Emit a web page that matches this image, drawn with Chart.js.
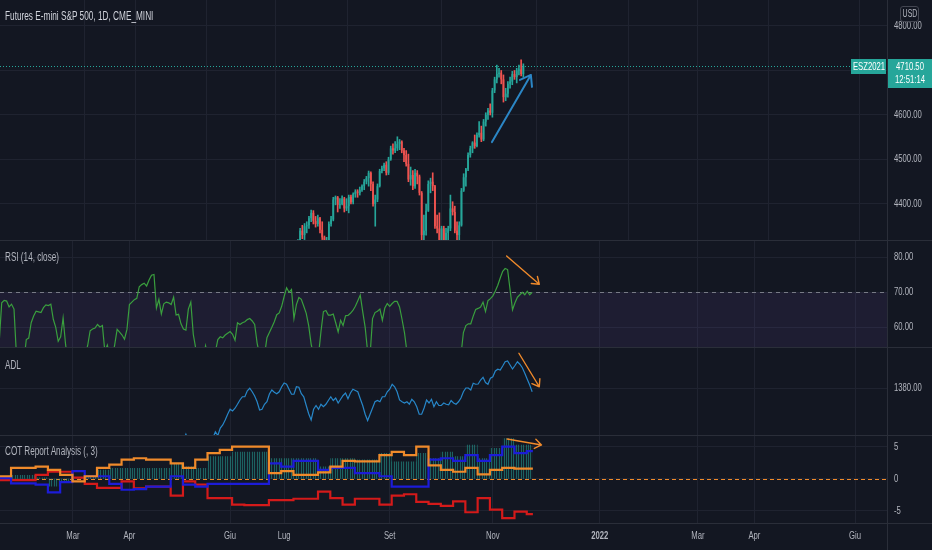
<!DOCTYPE html>
<html>
<head>
<meta charset="utf-8">
<script src="https://cdn.jsdelivr.net/npm/chart.js@4.4.1/dist/chart.umd.min.js"></script>
<style>
  html, body { margin: 0; padding: 0; }
  body { width: 932px; height: 550px; background: #2a2e39; position: relative; overflow: hidden;
         font-family: "Liberation Sans", Arial, sans-serif; }
  .pane { position: absolute; left: 0; width: 932px; background: #131722; }
  .pane canvas { display: block; }
  .legend { position: absolute; left: 5px; font-size: 12px; line-height: 14px; color: #b2b5be; white-space: nowrap;
            transform: scaleX(0.68); transform-origin: 0 0; }
  .tag { position: absolute; background: #26a69a; color: #fff; font-size: 11px; white-space: nowrap; overflow: hidden; }
  .tag span, #usd span { display: block; width: 200%; margin-left: -50%; text-align: center; transform: scaleX(0.7); }
  .rule { position: absolute; background: #2a2e39; }
  #usd { position: absolute; left: 900px; top: 6px; width: 17px; height: 14px; border: 1px solid #434651; border-radius: 3px;
         background: #131722; color: #b2b5be; font-size: 10px; line-height: 14px; white-space: nowrap; overflow: hidden; }
</style>
</head>
<body>
<div class="pane" style="top:0;height:240px"><canvas id="mainChart" width="932" height="240"></canvas></div>
<div class="pane" style="top:241px;height:106px"><canvas id="rsiChart" width="932" height="106"></canvas></div>
<div class="pane" style="top:348px;height:87px"><canvas id="adlChart" width="932" height="87"></canvas></div>
<div class="pane" style="top:436px;height:114px"><canvas id="cotChart" width="932" height="114"></canvas></div>
<div class="rule" style="left:0;top:523px;width:932px;height:1px"></div>
<div class="rule" style="left:887px;top:0;width:1px;height:550px"></div>

<div class="legend" style="top:9px;font-size:12.5px;color:#d1d4dc;transform:scaleX(0.66)">Futures E-mini S&amp;P 500, 1D, CME_MINI</div>
<div class="legend" style="top:250px">RSI (14, close)</div>
<div class="legend" style="top:358px">ADL</div>
<div class="legend" style="top:444px">COT Report Analysis (, 3)</div>
<div id="usd"><span>USD</span></div>
<div class="tag" style="left:851px;top:59px;width:35px;height:15px;line-height:15px"><span>ESZ2021</span></div>
<div class="tag" style="left:888px;top:59px;width:44px;height:29px;line-height:13px;padding-top:1px;box-sizing:border-box"><span>4710.50</span><span>12:51:14</span></div>

<script>
// x axis = daily bar index, month labels as printed by TradingView
const monthLabels = ['Mar', 'Apr', 'Giu', 'Lug', 'Set', 'Nov', '2022', 'Mar', 'Apr', 'Giu'];
const monthBars = [30, 53, 94, 116, 159, 201, 244.5, 284.5, 307.5, 348.5];

// ESZ2021 daily candles, from bar 112 (25 Jun) to bar 217 (23 Nov)
const candleStart = 112;
const candleOpen = [
  4262,4276,4288,4296,4318,4340,4330,4350,4352,4368, 4380,4362,4355,4368,4342,4325,4250,4318,4355,4365,
  4410,4415,4398,4400,4412,4390,4395,4416,4404,4422, 4428,4425,4432,4440,4450,4458,4470,4445,4400,4410,
  4440,4474,4480,4488,4470,4500,4525,4520,4525,4535, 4540,4520,4510,4490,4455,4465,4440,4470,4462,4425,
  4330,4340,4385,4445,4450,4440,4350,4345,4305,4345, 4285,4335,4345,4390,4382,4340,4330,4352,4430,4460,
  4478,4510,4525,4538,4530,4555,4560,4545,4585,4600, 4610,4605,4655,4680,4692,4695,4680,4640,4648,4670,
  4675,4692,4685,4700,4702,4692];
const candleHigh = [
  4280,4292,4300,4320,4345,4352,4356,4360,4372,4386, 4385,4372,4375,4370,4360,4328,4325,4360,4372,4415,
  4418,4417,4412,4418,4415,4412,4420,4420,4425,4432, 4432,4438,4443,4455,4462,4474,4472,4450,4420,4445,
  4478,4485,4492,4495,4505,4530,4535,4540,4551,4545, 4542,4525,4520,4512,4483,4475,4478,4475,4465,4428,
  4375,4400,4452,4458,4470,4442,4375,4380,4350,4350, 4345,4350,4420,4405,4395,4360,4360,4435,4468,4480,
  4515,4530,4540,4555,4560,4585,4575,4590,4605,4615, 4625,4660,4685,4712,4705,4700,4690,4660,4675,4685,
  4698,4700,4705,4712,4724,4715];
const candleLow = [
  4255,4270,4280,4290,4315,4322,4320,4335,4345,4360, 4355,4348,4350,4335,4320,4240,4245,4310,4350,4362,
  4398,4382,4390,4398,4382,4385,4380,4400,4400,4415, 4415,4420,4428,4432,4445,4440,4430,4395,4350,4405,
  4438,4470,4475,4465,4466,4498,4512,4515,4520,4522, 4515,4495,4485,4450,4442,4432,4435,4445,4420,4295,
  4320,4330,4383,4425,4430,4345,4335,4300,4270,4270, 4280,4270,4340,4375,4335,4320,4310,4350,4428,4440,
  4475,4505,4515,4525,4528,4550,4540,4542,4575,4590, 4600,4595,4650,4672,4685,4670,4629,4632,4640,4660,
  4668,4680,4672,4690,4688,4685];
const candleClose = [
  4276,4288,4296,4318,4340,4330,4350,4352,4368,4380, 4362,4355,4368,4342,4325,4250,4318,4355,4365,4410,
  4415,4398,4400,4412,4390,4395,4416,4404,4422,4428, 4425,4432,4440,4450,4458,4470,4445,4400,4410,4440,
  4474,4480,4488,4470,4500,4525,4520,4525,4535,4540, 4520,4510,4490,4455,4465,4440,4470,4462,4425,4330,
  4340,4385,4445,4450,4440,4350,4345,4305,4345,4285, 4335,4345,4390,4382,4340,4330,4352,4430,4460,4478,
  4510,4525,4538,4530,4555,4560,4545,4585,4600,4610, 4605,4655,4680,4692,4695,4680,4640,4648,4670,4675,
  4692,4685,4700,4702,4692,4710.5];

// RSI(14) per bar, from bar 0
const rsiValues = [
  56,67,67.7,67.5,65.8,66.6,65.2,52,50,48, 50,56.5,56.9,61.3,63.2,64.6,64.4,64.2,65.6,66.4,
  66.2,66.6,62.3,60,56,57.3,62.7,55.1,50,52, 53,50,48,49,50,52,54.8,59,59.5,59.8,
  60.8,60.1,60.5,53,54.9,52,51,55,59.4,58.6, 57.8,56.6,59.4,66.5,67.2,67.9,68.3,71.6,72.2,72.6,
  71.8,73.5,74.9,75.1,65.5,68,63.8,66.7,67.2,67, 66.5,68.6,63.5,63.7,61,59.5,59.2,65.2,67.2,58,
  54,50,49,50,54.7,52,50,51,53,56.5, 57.3,57,57.8,58.3,58.8,58,56.3,61.3,60.8,61.3,
  61.6,62.2,62.5,61.8,60.8,55.5,52,51,52,57, 58.5,60,61.6,63.6,64.1,66,68.8,71.3,70,70.8,
  62.5,66.5,68.5,68,66,64,60.5,55.2,52,50, 52,58.8,64.5,64.8,63.5,63.5,63.8,61.3,58.7,62,
  60.5,63.3,63.4,64,64.8,66,67.6,69.2,64.5,60, 53,52,62.5,64.2,64.6,65.2,62,65.5,66.8,66,
  66.8,67.4,67.4,65.8,62.3,58.5,53,
  50,47,44,46,43,40,45,41,38,40,43,41,39,42,47,45,42,44,40,46,51,
  52,58.5,60.5,61,61,63.2,65.1,65.4,65.8,67.2, 64.5,67.6,68.2,69,70.4,72,74.1,76,76.8,76.5,
  70.8,65,67,68.6,69.3,70,69.3,70.3,69.3,70];

// ADL per bar, from bar 0
const adlValues = [
  1336,1337,1335,1334,1336,1338,1337,1335,1333,1331, 1330,1332,1334,1336,1337,1338,1339,1338,1340,1341,
  1340,1338,1336,1335,1337,1336,1334,1333,1332,1331, 1333,1334,1336,1338,1339,1340,1341,1343,1342,1340,
  1339,1341,1338,1340,1342,1343,1345,1346,1348,1349, 1350,1349,1351,1352,1351,1349,1347,1348,1350,1352,
  1353,1352,1350,1348,1347,1349,1350,1352,1354,1355, 1356,1358,1357,1356,1358,1359,1361.5,1359,1357,1356,
  1355,1354,1356,1357,1358,1359,1360,
  1360,1362.5,1361,1364,1365.2,1367.2,1369.5,1371.5,1370.8,1371.9,
  1373.5,1375.2,1376.5,1376.5,1378.9,1379.9,1378.5,1376.8,1374.5,1371.2,
  1371.5,1373.5,1374.5,1377.6,1379.2,1378.3,1377.7,1378.5,1380.5,1382,
  1381.5,1379.5,1377.5,1377.5,1380.5,1380.3,1377.7,1376.5,1373,1369.7,
  1367.2,1371.5,1373,1371.5,1373.5,1372.5,1373.5,1375,1376.5,1375,
  1376,1374,1375.5,1377,1378,1375.7,1378,1379.5,1379,1378.5,
  1375.7,1373,1369.5,1367,1369.5,1372,1374.5,1375,1374.5,1376.5,
  1376.5,1378.5,1379.5,1381.5,1380.5,1378.5,1375.2,1374.5,1374,1374.5,
  1373.5,1375.5,1374.5,1372.5,1369.5,1369.5,1372,1375.2,1374,1375.5,
  1372.5,1374.5,1373,1373,1374,1373.5,1373.3,1375,1374,1373.5,
  1374.5,1376,1378.5,1380,1380,1379.2,1381.9,1381.5,1381.6,1383.2,
  1384.3,1382.2,1381.5,1383.9,1384.5,1386.8,1387.5,1387.2,1388.8,1390.5,
  1390.8,1389.2,1387.6,1389,1390.5,1389.5,1388.1,1385.9,1383.5,1381.2,
  1378.5];

// COT report, one value per weekly report
const cotOrange = [0.4,0.4,1.7,1.7,1.9,1.4,0.6,-0.4,0.4,1.7, 2.2,3.0,3.2,3.0,3.0,2.4,1.7,3.0,4.0,4.5,
  5.0,5.0,5.0,0.9,1.2,0.6,0.6,1.0,1.9,2.8, 2.7,2.7,3.7,4.2,3.7,5.0,2.1,1.4,1.1,1.7, 0.7,1.4,1.7,1.6,1.6];
const cotBlue = [-0.2,0.1,-0.7,-0.7,-0.9,-2.1,-0.5,1.2,0.4,0.4, -0.8,-1.7,-1.6,-1.2,-1.2,0.4,-0.9,-1.2,-0.8,-0.8,
  -0.8,-0.8,-0.8,2.4,1.9,2.8,2.8,1.4,1.7,1.7, 0.9,0.9,0.4,-1.2,-1.2,-1.2,3.0,3.2,2.8,3.7, 2.8,3.7,5.0,4.0,4.3];
const cotRed = [0.4,-0.2,-0.2,-0.2,0.6,1.1,1.1,0.2,-0.8,-1.4, -1.4,-0.4,-1.5,-1.2,-1.2,-2.6,-0.4,-0.9,-3.0,-3.0,
  -4.0,-4.1,-4.1,-3.3,-3.3,-3.1,-3.1,-2.0,-3.0,-4.0, -3.1,-3.1,-4.0,-2.6,-2.4,-3.6,-3.9,-4.2,-3.5,-5.2, -3.0,-4.8,-6.1,-5.1,-5.5];
const cotHist = [0.4,0.4,0.6,0.6,0.2,-1.2,-0.4,0.1,0.4,1.4, 1.7,1.7,1.7,1.7,1.7,2.4,1.9,1.7,3.5,3.5,
  4.2,4.2,4.2,3.2,3.2,3.2,3.2,1.9,3.2,3.2, 3.0,3.0,4.0,2.7,2.7,4.0,3.2,4.2,3.5,5.3, 3.2,4.8,6.3,5.3,5.3];

// hand drawn arrows: [bar, value] start and end
const priceArrow = [[202.8, 4539], [220.4, 4690]];
const rsiArrow = [[206.6, 80.4], [219.9, 72.3]];
const adlArrow = [[211.6, 1393.9], [219.9, 1380.5]];
const cotArrow = [[206.8, 6.2], [220.8, 5.27]];

const GRID = '#1f2330';
const TEXT = '#b2b5be';
const LABEL_FONT = '11px "Liberation Sans", Arial, sans-serif';
const SQUEEZE = 0.7;
const UP = '#26a69a', DOWN = '#ef5350';

const toXY = (vals, start) => vals.map((y, i) => ({ x: start + i, y }));
const weekXY = vals => vals.map((y, n) => ({ x: 5 * n - 2.7, y }));

function xAxis(withLabels) {
  return {
    type: 'linear', min: 0.3, max: 361.9,
    afterBuildTicks: s => { s.ticks = monthBars.map(v => ({ value: v })); },
    afterFit: s => { s.height = withLabels ? 27 : 0; s.paddingLeft = 0; s.paddingRight = 0; },
    grid: { color: GRID, drawTicks: false },
    border: { display: false },
    ticks: { display: false }
  };
}

function yAxis(min, max, ticks) {
  return {
    type: 'linear', position: 'right', min, max,
    afterBuildTicks: s => { s.ticks = ticks.map(v => ({ value: v })); },
    afterFit: s => { s.width = 44; s.paddingTop = 0; s.paddingBottom = 0; },
    grid: { color: GRID, drawTicks: false },
    border: { display: false },
    ticks: { display: false }
  };
}

// narrow tick labels like TradingView's axis font
function squeezed(ctx, text, x, y, align) {
  ctx.save();
  ctx.translate(x, y); ctx.scale(SQUEEZE, 1);
  ctx.textAlign = align; ctx.textBaseline = 'middle';
  ctx.fillText(text, 0, 0);
  ctx.restore();
}
function axisText(yFmt, withX) {
  return {
    id: 'axisText',
    afterDraw(chart) {
      const { ctx, chartArea: a, scales: { x, y } } = chart;
      ctx.save();
      ctx.fillStyle = TEXT;
      ctx.font = LABEL_FONT;
      y.ticks.forEach(t => squeezed(ctx, yFmt(t.value), y.left + 6, y.getPixelForValue(t.value), 'left'));
      if (withX) {
        x.ticks.forEach((t, i) => {
          ctx.font = (monthLabels[i] === '2022' ? 'bold ' : '') + LABEL_FONT;
          squeezed(ctx, monthLabels[i], x.getPixelForValue(t.value), a.bottom + 13, 'center');
        });
      }
      ctx.restore();
    }
  };
}

// bands, horizontal level lines and arrows drawn on top of the scales
function overlay(opts) {
  const drawLevels = (chart, list) => {
    const { ctx, chartArea: a, scales: { y } } = chart;
    ctx.save();
    ctx.beginPath(); ctx.rect(a.left, a.top, a.width, a.height); ctx.clip();
    (opts.bands || []).forEach(b => {
      if (list !== 'under') return;
      const y1 = y.getPixelForValue(b.from), y2 = y.getPixelForValue(b.to);
      ctx.fillStyle = b.color;
      ctx.fillRect(a.left, Math.min(y1, y2), a.width, Math.abs(y2 - y1));
    });
    (opts[list] || []).forEach(l => {
      const py = Math.round(y.getPixelForValue(l.value)) + 0.5;
      ctx.strokeStyle = l.color; ctx.lineWidth = 1; ctx.setLineDash(l.dash);
      ctx.beginPath(); ctx.moveTo(a.left, py); ctx.lineTo(a.right, py); ctx.stroke();
    });
    ctx.restore();
  };
  return {
    id: 'overlay',
    beforeDatasetsDraw(chart) { drawLevels(chart, 'under'); },
    afterDatasetsDraw(chart) {
      drawLevels(chart, 'over');
      const { ctx, scales: { x, y } } = chart;
      ctx.save();
      (opts.arrows || []).forEach(ar => {
        const x1 = x.getPixelForValue(ar.pts[0][0]), y1 = y.getPixelForValue(ar.pts[0][1]);
        const x2 = x.getPixelForValue(ar.pts[1][0]), y2 = y.getPixelForValue(ar.pts[1][1]);
        const ang = Math.atan2(y2 - y1, x2 - x1);
        ctx.strokeStyle = ar.color; ctx.lineWidth = ar.width; ctx.lineCap = 'round';
        ctx.beginPath(); ctx.moveTo(x1, y1); ctx.lineTo(x2, y2);
        [-1, 1].forEach(s => {
          ctx.moveTo(x2, y2);
          ctx.lineTo(x2 - ar.head * Math.cos(ang + s * 0.62), y2 - ar.head * Math.sin(ang + s * 0.62));
        });
        ctx.stroke();
      });
      ctx.restore();
    }
  };
}

const base = {
  responsive: false, animation: false, events: [],
  layout: { padding: 0 },
  plugins: { legend: { display: false }, tooltip: { enabled: false } }
};
const fixed2 = v => v.toFixed(2);

// main price pane
const candleX = candleOpen.map((_, i) => candleStart + i);
const candleColor = i => candleClose[i] >= candleOpen[i] ? UP : DOWN;
const lastPrice = candleClose[candleClose.length - 1];
new Chart(document.getElementById('mainChart'), {
  type: 'bar',
  data: {
    datasets: [
      { data: candleX.map((x, i) => ({ x, y: [candleOpen[i], candleClose[i]] })),
        backgroundColor: c => candleColor(c.dataIndex), grouped: false,
        barPercentage: 0.8, categoryPercentage: 1 },
      { data: candleX.map((x, i) => ({ x, y: [candleLow[i], candleHigh[i]] })),
        backgroundColor: c => candleColor(c.dataIndex), grouped: false, barThickness: 1 }
    ]
  },
  options: { ...base,
    scales: { x: xAxis(false), y: yAxis(4319, 4858.4, [4400, 4500, 4600, 4700, 4800]) } },
  plugins: [overlay({
    over: [{ value: lastPrice, color: UP, dash: [1, 2] }],
    arrows: [{ pts: priceArrow, color: '#2b86c5', width: 2, head: 12 }]
  }), axisText(fixed2, false)]
});

// RSI pane
new Chart(document.getElementById('rsiChart'), {
  type: 'line',
  data: { datasets: [{ data: toXY(rsiValues, 0), borderColor: '#3a9f3e', borderWidth: 1.2, pointRadius: 0 }] },
  options: { ...base,
    scales: { x: xAxis(false), y: yAxis(54.37, 84.66, [60, 70, 80]) } },
  plugins: [overlay({
    bands: [{ from: 70, to: 30, color: 'rgba(126,87,194,0.1)' }],
    under: [{ value: 70, color: '#787b86', dash: [4, 4] }],
    arrows: [{ pts: rsiArrow, color: '#ef8a2b', width: 1.4, head: 8 }]
  }), axisText(fixed2, false)]
});

// ADL pane
new Chart(document.getElementById('adlChart'), {
  type: 'line',
  data: { datasets: [{ data: toXY(adlValues, 0), borderColor: '#2787c9', borderWidth: 1.2, pointRadius: 0 }] },
  options: { ...base,
    scales: { x: xAxis(false), y: yAxis(1361.2, 1396, [1380]) } },
  plugins: [overlay({
    arrows: [{ pts: adlArrow, color: '#ef8a2b', width: 1.4, head: 8 }]
  }), axisText(fixed2, false)]
});

// COT pane, histogram drawn as striped stepped area
const cotCanvas = document.getElementById('cotChart');
const stripe = document.createElement('canvas');
stripe.width = 22; stripe.height = 4;
const sg = stripe.getContext('2d');
sg.fillStyle = 'rgba(38,166,154,0.06)'; sg.fillRect(0, 0, 22, 4);
sg.fillStyle = 'rgba(38,166,154,0.5)';
[0, 2, 5, 7, 10, 12, 15, 17, 20].forEach(px => sg.fillRect(px, 0, 1, 4));
const stripePattern = cotCanvas.getContext('2d').createPattern(stripe, 'repeat');

const cotLine = (vals, color) => ({ data: weekXY(vals), borderColor: color, borderWidth: 2.2,
  pointRadius: 0, stepped: 'middle', fill: false });
new Chart(cotCanvas, {
  type: 'line',
  data: { datasets: [
    cotLine(cotOrange, '#ef8a2b'),
    cotLine(cotBlue, '#1c1cd8'),
    cotLine(cotRed, '#d41a1a'),
    { data: weekXY(cotHist), borderWidth: 0, pointRadius: 0, stepped: 'middle',
      fill: 'origin', backgroundColor: stripePattern }
  ] },
  options: { ...base,
    scales: { x: xAxis(true), y: yAxis(-6.87, 6.66, [-5, 0, 5]) } },
  plugins: [overlay({
    under: [{ value: 0, color: '#ef8a2b', dash: [4, 3] }],
    arrows: [{ pts: cotArrow, color: '#ef8a2b', width: 1.4, head: 8 }]
  }), axisText(v => String(v), true)]
});
</script>
</body>
</html>
